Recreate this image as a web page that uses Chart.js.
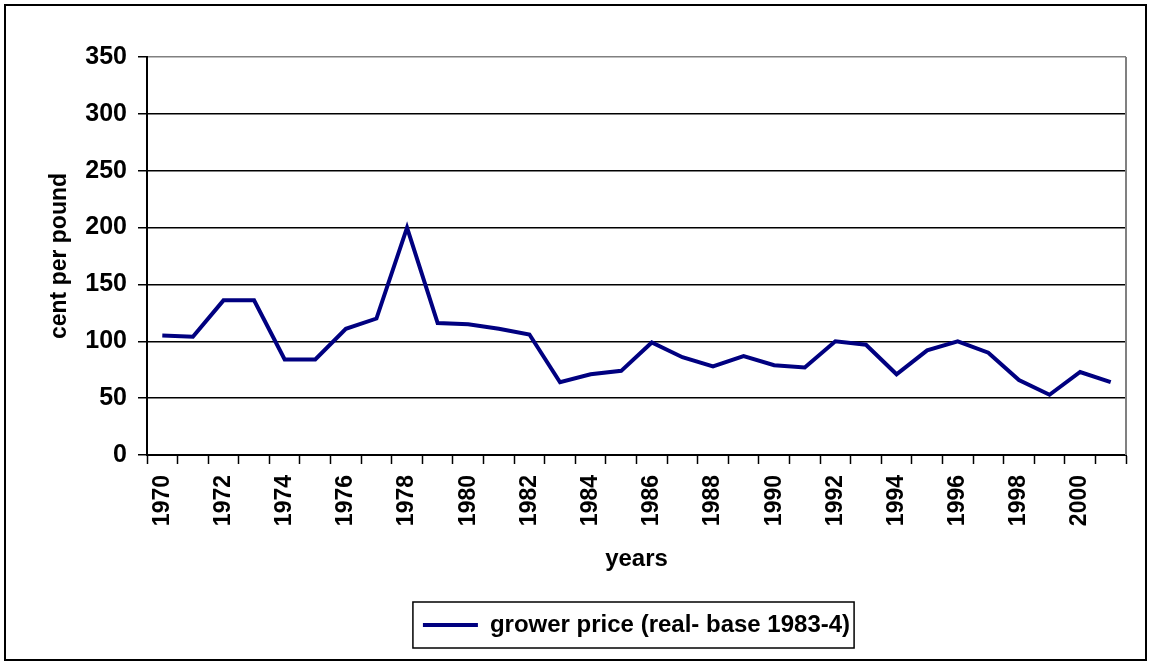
<!DOCTYPE html>
<html lang="en">
<head>
  <title>Grower price</title>
  <script type="text/javascript" src="https://cdn.jsdelivr.net/npm/chart.js"></script>
  <style>
    body { margin: 0; background: #fff; }
    #wrap { width: 1151px; height: 665px; }
  </style>
</head>
<body>
<div id="wrap"><canvas id="c" width="1151" height="665"></canvas></div>

<script>
  // Chart data
  const years = ['1970', '1971', '1972', '1973', '1974', '1975', '1976', '1977',
    '1978', '1979', '1980', '1981', '1982', '1983', '1984', '1985', '1986',
    '1987', '1988', '1989', '1990', '1991', '1992', '1993', '1994', '1995',
    '1996', '1997', '1998', '1999', '2000', '2001'];
  const growerPrice = [105, 104, 136, 136, 84, 84, 111, 120, 200, 116, 115, 111,
    106, 64, 71, 74, 99, 86, 78, 87, 79, 77, 100, 97, 71, 92, 100, 90, 66, 53, 73, 64];
  const seriesLabel = 'grower price (real- base 1983-4)';

  const FONT = '"Liberation Sans", Arial, sans-serif';
  Chart.defaults.font.family = FONT;
  Chart.defaults.font.weight = 'bold';
  Chart.defaults.color = '#000';

  // outer frame, gray plot edge on the right, and box round the legend
  const framePlugin = {
    id: 'frame',
    afterDraw(chart) {
      const ctx = chart.ctx;
      const a = chart.chartArea;
      ctx.save();
      ctx.strokeStyle = '#808080';
      ctx.lineWidth = 2;
      ctx.beginPath();
      ctx.moveTo(a.right, a.top);
      ctx.lineTo(a.right, a.bottom);
      ctx.stroke();

      ctx.strokeStyle = '#000';
      ctx.lineWidth = 2;
      ctx.strokeRect(5, 5, 1141, 655);

      const hb = chart.legend.legendHitBoxes[0];
      if (hb) {
        const cy = hb.top + hb.height / 2;
        ctx.lineWidth = 1.5;
        ctx.strokeRect(hb.left - 10, cy - 23, hb.width + 14, 46);
      }
      ctx.restore();
    }
  };

  new Chart(document.getElementById('c'), {
    type: 'line',
    data: {
      labels: years,
      datasets: [{
        label: seriesLabel,
        data: growerPrice,
        borderColor: '#000080',
        backgroundColor: '#000080',
        borderWidth: 4,
        pointRadius: 0,
        tension: 0,
        fill: false
      }]
    },
    options: {
      responsive: false,
      animation: false,
      events: [],
      layout: { padding: { left: 0, right: 25, top: 57, bottom: 18 } },
      plugins: {
        tooltip: { enabled: false },
        legend: {
          position: 'bottom',
          fullSize: false,
          labels: {
            font: { size: 24, weight: 'bold' },
            boxWidth: 55,
            boxHeight: 4,
            padding: 10,
            generateLabels(chart) {
              return [{
                text: seriesLabel,
                fillStyle: '#000080',
                strokeStyle: '#000080',
                lineWidth: 0,
                datasetIndex: 0
              }];
            }
          }
        }
      },
      scales: {
        x: {
          type: 'category',
          offset: true,
          afterFit(scale) { scale.height = 148; },
          grid: {
            offset: true,
            drawOnChartArea: false,
            drawTicks: true,
            tickLength: 9,
            tickColor: '#000',
            tickWidth: 1.5
          },
          border: { color: '#000', width: 2 },
          ticks: {
            autoSkip: false,
            minRotation: 90,
            maxRotation: 90,
            padding: 11,
            font: { size: 23, weight: 'bold' },
            callback(val, idx) { return idx % 2 === 0 ? years[idx] : ''; }
          },
          title: {
            display: true,
            text: 'years',
            font: { size: 24, weight: 'bold' },
            padding: 29
          }
        },
        y: {
          min: 0,
          max: 350,
          afterFit(scale) { scale.width = 147; },
          grid: {
            color(c) { return c.tick && c.tick.value === 350 ? '#808080' : '#000'; },
            lineWidth: 1.5,
            tickLength: 9,
            tickColor: '#000',
            tickWidth: 1.5
          },
          border: { color: '#000', width: 2 },
          ticks: {
            stepSize: 50,
            padding: 11,
            font: { size: 25, weight: 'bold' }
          },
          title: {
            display: true,
            text: 'cent per pound',
            font: { size: 23, weight: 'bold' },
            padding: 46
          }
        }
      }
    },
    plugins: [framePlugin]
  });
</script>
</body>
</html>
